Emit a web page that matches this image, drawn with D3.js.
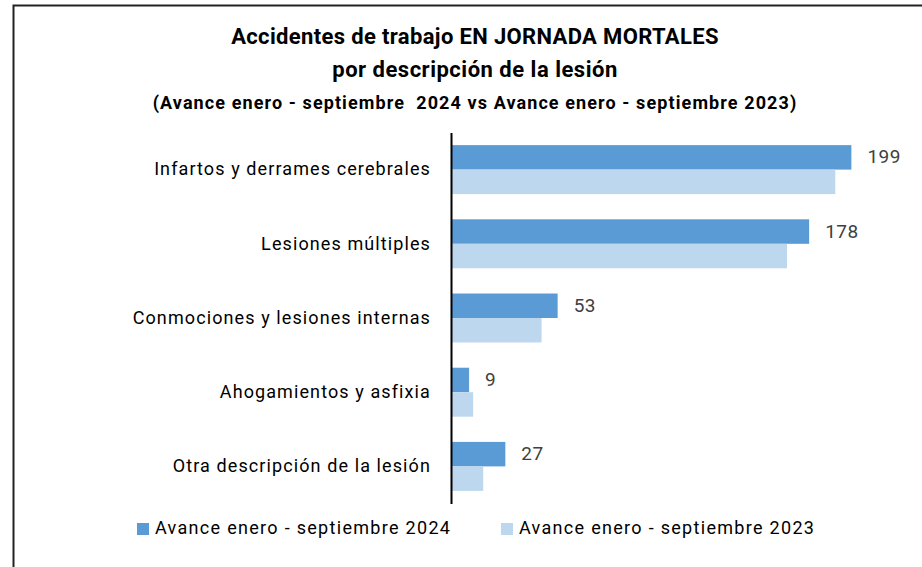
<!DOCTYPE html>
<meta charset="utf-8" />
<style>
  body { margin: 0; background: #fff; }
  text { font-family: Roboto, "Open Sans", sans-serif; }
</style>
<svg width="922" height="567"></svg>
<script src="https://d3js.org/d3.v7.min.js"></script>
<script>
    // datos
    var categories = [
        "Infartos y derrames cerebrales",
        "Lesiones múltiples",
        "Conmociones y lesiones internas",
        "Ahogamientos y asfixia",
        "Otra descripción de la lesión"
    ];
    var values2024 = [199, 178, 53, 9, 27];
    var values2023 = [191, 167, 45, 11, 16];
    var seriesNames = ["Avance enero - septiembre 2024", "Avance enero - septiembre 2023"];
    var seriesColors = ["#5b9bd5", "#bdd7ee"];

    var svg = d3.select("svg");

    // marco
    svg.append("rect")
        .attr("x", 13.5).attr("y", 5.5)
        .attr("width", 940).attr("height", 600)
        .attr("fill", "none")
        .attr("stroke", "#222")
        .attr("stroke-width", 2);

    // titulo
    var title = svg.append("g").attr("text-anchor", "middle").attr("font-weight", "bold").attr("fill", "#000");
    title.append("text").attr("x", 475).attr("y", 44).attr("font-size", 22)
        .attr("letter-spacing", 0.35).text("Accidentes de trabajo EN JORNADA MORTALES");
    title.append("text").attr("x", 475).attr("y", 77).attr("font-size", 22)
        .attr("letter-spacing", 0.5).text("por descripción de la lesión");
    title.append("text").attr("x", 475).attr("y", 109).attr("font-size", 18)
        .attr("letter-spacing", 1.1).style("white-space", "pre")
        .text("(Avance enero - septiembre  2024 vs Avance enero - septiembre 2023)");

    var x = d3.scaleLinear().domain([0, 250]).range([451, 451 + 503]);
    var y = d3.scaleBand().domain(categories).range([132.5, 503.5]).paddingInner(0.34).paddingOuter(0.17);
    var ySub = d3.scaleBand().domain([0, 1]).range([0, y.bandwidth()]);

    var rows = categories.map(function(c, i) {
        return { cat: c, vals: [values2024[i], values2023[i]] };
    });

    var g = svg.append("g").selectAll("g").data(rows).enter().append("g")
        .attr("transform", function(d) { return "translate(0," + y(d.cat) + ")"; });

    g.selectAll("rect").data(function(d) { return d.vals; }).enter().append("rect")
        .attr("x", x(0))
        .attr("y", function(d, i) { return ySub(i); })
        .attr("width", function(d) { return x(d) - x(0); })
        .attr("height", ySub.bandwidth())
        .attr("fill", function(d, i) { return seriesColors[i]; });

    // etiquetas de valor (solo 2024)
    g.append("text")
        .attr("x", function(d) { return x(d.vals[0]) + 16; })
        .attr("y", ySub(0) + ySub.bandwidth() / 2 + 1)
        .attr("dominant-baseline", "middle")
        .attr("font-size", 19)
        .attr("letter-spacing", 0.5)
        .attr("fill", "#404040")
        .text(function(d) { return d.vals[0]; });

    // eje
    var axis = svg.append("g").attr("transform", "translate(" + x(0) + ",0)")
        .call(d3.axisLeft(y).tickSize(0).tickPadding(20));
    axis.select(".domain").attr("stroke", "#000").attr("stroke-width", 2);
    axis.selectAll("text").attr("font-size", 18).attr("fill", "#000")
        .attr("letter-spacing", 1.1)
        .style("font-family", "Roboto, 'Open Sans', sans-serif");

    // leyenda
    var legendX = [137, 501];
    var leg = svg.append("g").selectAll("g").data(seriesNames).enter().append("g")
        .attr("transform", function(d, i) { return "translate(" + legendX[i] + ",523)"; });
    leg.append("rect").attr("width", 12).attr("height", 12)
        .attr("fill", function(d, i) { return seriesColors[i]; });
    leg.append("text").attr("x", 18).attr("y", 6.5).attr("dominant-baseline", "middle")
        .attr("font-size", 18).attr("letter-spacing", 1.3).attr("fill", "#000")
        .text(function(d) { return d; });
</script>
